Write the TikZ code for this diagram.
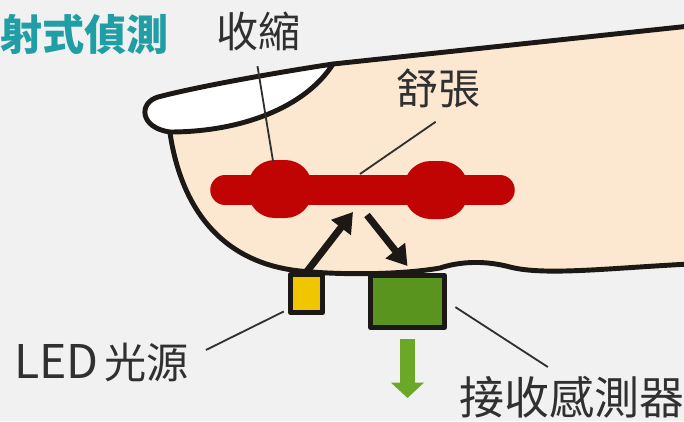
\documentclass[tikz,border=0pt]{standalone}
\usepackage{fontspec}
\newfontfamily\cjk{Noto Sans CJK TC}
\usetikzlibrary{arrows.meta}

\definecolor{paper}{RGB}{241,241,241}
\definecolor{skin}{RGB}{252,232,208}
\definecolor{vessel}{RGB}{192,4,4}
\definecolor{ledyellow}{RGB}{240,198,0}
\definecolor{sensgreen}{RGB}{88,148,30}
\definecolor{outgreen}{RGB}{108,168,40}
\definecolor{headteal}{RGB}{32,158,166}
\definecolor{ink}{RGB}{48,48,48}
\definecolor{outline}{RGB}{28,24,22}

\tikzset{
  tag/.style={font=\cjk\fontsize{30}{36}\selectfont, text=ink, inner sep=0pt, anchor=base west},
  leader/.style={draw=ink, line width=1.3pt},
  part/.style={rectangle, draw=outline, line width=3.5pt, inner sep=0pt},
  bulge/.style={fill=vessel, rounded corners=19pt},
  beam/.style={draw=outline, line width=5pt, -{Triangle[length=14pt,width=17pt]}},
  outflow/.style={draw=outgreen, line width=11pt, -{Triangle[length=11pt,width=23pt]}},
}

\begin{document}
\begin{tikzpicture}[x=0.025cm, y=-0.025cm, line join=round]

    % Page and background
    \useasboundingbox (0,0) rectangle (684,421);
    \fill[paper] (0,0) rectangle (684,421);

    % Fingertip (skin)
    \fill[skin] (170,133) .. controls (180,200) and (215,262) .. (300,271)
        .. controls (340,275) and (400,275) .. (440,268)
        .. controls (455,263) and (480,259) .. (510,267)
        .. controls (545,276) and (610,268) .. (690,264)
        -- (690,26) -- (333,64)
        .. controls (305,108) and (240,132) .. (170,133) -- cycle;

    % Blood vessel with the two pulse bulges
    \draw[vessel, line width=21pt, line cap=round] (225,190) -- (500,190);
    \fill[bulge] (248,160) rectangle (312,218);
    \fill[bulge] (404,161) rectangle (468,219);

    % Finger outline
    \draw[outline, line width=3.5pt] (333,64) -- (690,26);
    \draw[outline, line width=3.5pt] (170,133) .. controls (180,200) and (215,262) .. (300,271)
        .. controls (340,275) and (400,275) .. (440,268)
        .. controls (455,263) and (480,259) .. (510,267)
        .. controls (545,276) and (610,268) .. (690,264);

    % Nail
    \draw[outline, fill=white, line width=3.5pt] (333,64)
        .. controls (280,72) and (200,86) .. (158,97)
        .. controls (138,103) and (140,128) .. (170,132)
        .. controls (240,132) and (305,108) .. (333,64) -- cycle;

    % Light source and receiver
    \node[part, fill=ledyellow, minimum width=0.8cm, minimum height=0.95cm] (led) at (306.5,293.5) {};
    \node[part, fill=sensgreen, minimum width=1.85cm, minimum height=1.3cm] (sensor) at (407.5,301.5) {};

    % Light path into the vessel and back out
    \coordinate (in-pt) at (353,212);
    \coordinate (out-pt) at (367,215);
    \draw[beam] (led.north) -- (in-pt);
    \draw[beam] (out-pt) -- ([yshift=5pt]sensor.north);

    % Signal leaving the receiver
    \coordinate (signal) at (407.5,398);
    \draw[outflow] ([yshift=-6.5pt]sensor.south) -- (signal);

    % Labels
    \node[tag, font=\cjk\bfseries\fontsize{30}{36}\selectfont, text=headteal] (title) at (0,50) {射式偵測};
    \node[tag] (shousuo) at (216,47) {收縮};
    \node[tag] (shuzhang) at (396,104) {舒張};
    \node[tag] (ledlbl) at (14,378) {{\fontsize{33}{36}\selectfont LED}\hspace{4pt}光源};
    \node[tag, font=\cjk\fontsize{32}{38}\selectfont] (sensorlbl) at (459,414) {接收感測器};

    % Leader lines
    \coordinate (shousuo-pt) at (273,161);
    \coordinate (shuzhang-pt) at (360,174);
    \draw[leader] ([xshift=-0.7pt,yshift=-11pt]shousuo.south) -- (shousuo-pt);
    \draw[leader] ([xshift=-2pt,yshift=-10pt]shuzhang.south) -- (shuzhang-pt);
    \draw[leader] ([xshift=12pt,yshift=8.5pt]ledlbl.east) -- ([xshift=-3pt,yshift=2.5pt]led.south west);
    \draw[leader] ([xshift=6pt,yshift=-4pt]sensor.east) -- ([xshift=-17pt,yshift=6pt]sensorlbl.north);

\end{tikzpicture}
\end{document}
